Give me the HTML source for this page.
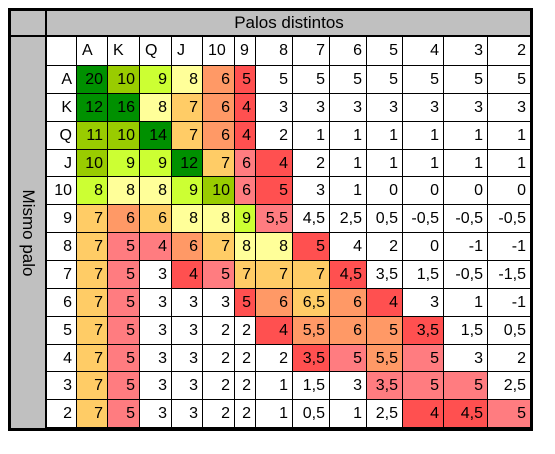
<!DOCTYPE html>
<html><head><meta charset="utf-8"><style>
body{margin:0;width:555px;height:454px;background:#fff;font-family:"Liberation Sans",sans-serif;position:relative;overflow:hidden}
.c{position:absolute;box-sizing:border-box;border-right:1px solid #000;border-bottom:1px solid #000;font-size:16px;line-height:27px;color:#000;white-space:nowrap}
.r{text-align:right;padding-right:4px}
.l{text-align:left;padding-left:5px}
</style></head><body>
<div id="t" style="position:absolute;left:0;top:0;width:555px;height:454px"></div>
<div style="position:absolute;left:9px;top:9px;width:38px;height:28px;background:#c0c0c0;border-bottom:2px solid #000;border-right:2px solid #000;box-sizing:border-box"></div>
<div style="position:absolute;left:47px;top:9px;width:484px;height:28px;background:#c0c0c0;border-bottom:2px solid #000;box-sizing:border-box;text-align:center;font-size:17px;line-height:27px">Palos distintos</div>
<div style="position:absolute;left:9px;top:37px;width:38px;height:392px;background:#c0c0c0;border-right:2px solid #000;box-sizing:border-box"><div style="position:absolute;left:19px;top:196px;transform:translate(-50%,-50%) rotate(90deg);font-size:17px;white-space:nowrap">Mismo palo</div></div>
<div style="position:absolute;left:8px;top:8px;width:525px;height:423px;border:3px solid #000;box-sizing:border-box;pointer-events:none;z-index:5"></div>
<script>
const cols=["A","K","Q","J","10","9","8","7","6","5","4","3","2"];
const rowLabels=["A","K","Q","J","10","9","8","7","6","5","4","3","2"];
const values=[
["20","10","9","8","6","5","5","5","5","5","5","5","5"],
["12","16","8","7","6","4","3","3","3","3","3","3","3"],
["11","10","14","7","6","4","2","1","1","1","1","1","1"],
["10","9","9","12","7","6","4","2","1","1","1","1","1"],
["8","8","8","9","10","6","5","3","1","0","0","0","0"],
["7","6","6","8","8","9","5,5","4,5","2,5","0,5","-0,5","-0,5","-0,5"],
["7","5","4","6","7","8","8","5","4","2","0","-1","-1"],
["7","5","3","4","5","7","7","7","4,5","3,5","1,5","-0,5","-1,5"],
["7","5","3","3","3","5","6","6,5","6","4","3","1","-1"],
["7","5","3","3","2","2","4","5,5","6","5","3,5","1,5","0,5"],
["7","5","3","3","2","2","2","3,5","5","5,5","5","3","2"],
["7","5","3","3","2","2","1","1,5","3","3,5","5","5","2,5"],
["7","5","3","3","2","2","1","0,5","1","2,5","4","4,5","5"]];
const colorCodes=[
"GLYPRDWWWWWWW",
"GGPORDWWWWWWW",
"LLGORDWWWWWWW",
"LYYGOKDWWWWWW",
"YPPYLKDWWWWWW",
"OROPPYKWWWWWW",
"OKKROPPDWWWWW",
"OKWDKOOODWWWW",
"OKWWWDRORDWWW",
"OKWWWWDRRRDWW",
"OKWWWWWDKRKWW",
"OKWWWWWWWKKKW",
"OKWWWWWWWWDDK"];
const palette={G:"#009000",L:"#99cc00",Y:"#ccff33",P:"#ffff99",O:"#ffcc66",R:"#ff9966",D:"#ff5050",K:"#ff7c80",W:"#ffffff"};
const xe=[47,77,108,140,172,203,235,256,293,330,367,403,444,488,531];
const y0=66,rh=27.85,t=document.getElementById('t');
function cell(x,y,w,h,txt,cls,bg){const d=document.createElement('div');d.className='c '+cls;d.style.left=x+'px';d.style.top=y+'px';d.style.width=w+'px';d.style.height=h+'px';d.style.background=bg;d.textContent=txt;t.appendChild(d);return d;}
for(let j=0;j<cols.length;j++){const d=cell(xe[j+1],37,xe[j+2]-xe[j+1],29,cols[j],j<6?'l':'r','#fff');

}
cell(47,37,30,29,'','r','#fff');
for(let i=0;i<rowLabels.length;i++){const y=Math.round(y0+i*rh),h=Math.round(y0+(i+1)*rh)-y;
const d=cell(47,y,30,h,rowLabels[i],'r','#fff');


for(let j=0;j<cols.length;j++){const c=cell(xe[j+1],y,xe[j+2]-xe[j+1],h,values[i][j],'r',palette[colorCodes[i][j]]);

}}
</script>
</body></html>
